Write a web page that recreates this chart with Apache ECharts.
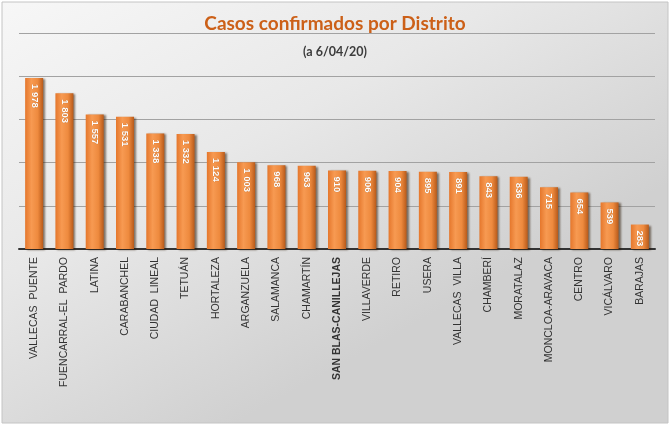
<!DOCTYPE html>
<html><head><meta charset="utf-8">
<script src="https://cdn.jsdelivr.net/npm/echarts@6/dist/echarts.min.js"></script>
<style>html,body{margin:0;padding:0;background:#fff}#c{width:670px;height:427px}</style>
</head><body><div id="c"></div>
<script>
const categories = ["VALLECAS  PUENTE","FUENCARRAL-EL  PARDO","LATINA","CARABANCHEL","CIUDAD  LINEAL","TETUÁN","HORTALEZA","ARGANZUELA","SALAMANCA","CHAMARTÍN","SAN BLAS-CANILLEJAS","VILLAVERDE","RETIRO","USERA","VALLECAS  VILLA","CHAMBERÍ","MORATALAZ","MONCLOA-ARAVACA","CENTRO","VICÁLVARO","BARAJAS"];
const casos = [1978,1803,1557,1531,1338,1332,1124,1003,968,963,910,906,904,895,891,843,836,715,654,539,283];
const valueLabels = ["1 978","1 803","1 557","1 531","1 338","1 332","1 124","1 003","968","963","910","906","904","895","891","843","836","715","654","539","283"];
const titleText = "Casos confirmados por Distrito";
const subtitleText = "(a 6/04/20)";

const chart = echarts.init(document.getElementById('c'), null, {renderer:'canvas'});
chart.setOption({
  animation:false,
  graphic:[{
    type:'rect', z:-10, silent:true,
    shape:{x:2,y:2,width:666,height:421},
    style:{
      fill:new echarts.graphic.LinearGradient(0,0,0.35,1,[
        {offset:0,color:'#f7f7f7'},{offset:0.5,color:'#e8e8e8'},{offset:1,color:'#d0d0d0'}]),
      stroke:'#c4c4c4', lineWidth:1
    }
  }],
  title:[
    {text:titleText,left:'center',top:9,textStyle:{fontFamily:'Lato',fontWeight:'bold',fontSize:19,color:'#cc6018'}},
    {text:subtitleText,left:'center',top:40,textStyle:{fontFamily:'Lato',fontWeight:'bold',fontSize:12.5,color:'#3c3c3c'}}
  ],
  grid:{left:19,right:15,top:33,bottom:178},
  xAxis:{
    type:'category', data:categories,
    axisLine:{lineStyle:{color:'#333333',width:2}},
    axisTick:{show:false},
    axisLabel:{interval:0,rotate:90,margin:8,fontFamily:'Liberation Sans',fontSize:10.5,color:'#333333',
      formatter:function(v){return v==='SAN BLAS-CANILLEJAS'?'{b|'+v+'}':v;},
      rich:{b:{fontWeight:'bold',fontFamily:'Liberation Sans',fontSize:10.5,color:'#333333'}}}
  },
  yAxis:{
    type:'value', min:0, max:2500, interval:500,
    axisLabel:{show:false}, axisLine:{show:false}, axisTick:{show:false},
    splitLine:{show:true,lineStyle:{color:'#a2a2a2',width:1}}
  },
  series:[{
    type:'bar', data:casos, barWidth:18,
    itemStyle:{
      color:new echarts.graphic.LinearGradient(0,0,1,0,[
        {offset:0,color:'#e5772c'},{offset:0.35,color:'#f79a52'},{offset:0.7,color:'#ee8a3e'},{offset:1,color:'#b85a1a'}]),
      shadowColor:'rgba(40,20,0,0.55)', shadowOffsetX:2, shadowOffsetY:1, shadowBlur:2
    },
    label:{
      show:true, position:'insideTop', rotate:-90, align:'left', verticalAlign:'middle', distance:6,
      formatter:function(p){return valueLabels[p.dataIndex];},
      color:'#ffffff', fontFamily:'Liberation Sans', fontWeight:'bold', fontSize:9.5,
      textShadowColor:'rgba(120,50,0,0.6)', textShadowBlur:1
    }
  }]
});
</script></body></html>
